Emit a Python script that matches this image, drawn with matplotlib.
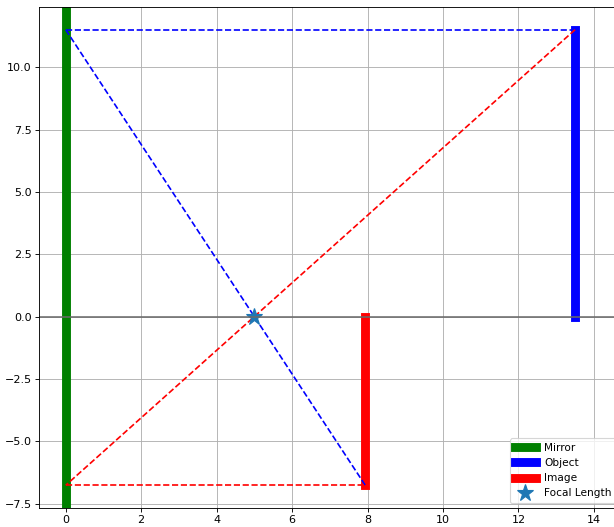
import matplotlib.pyplot as plt

# mirror / lens setup
focal_length = 5.0
object_distance = 13.5
object_height = 11.5
image_distance = 7.94
image_height = -6.76

dpi = 80
x_min, x_max = -0.7, 14.72
px_per_unit = 37.73
fig = plt.figure(figsize=(614 / dpi, 527 / dpi), dpi=dpi)
ax = fig.add_axes([39.3 / 614, 19 / 527, (x_max - x_min) * px_per_unit / 614, 501 / 527])

ax.axvline(0, color='green', linewidth=8, label='Mirror')
ax.plot([object_distance, object_distance], [0, object_height], color='blue', linewidth=8, label='Object')
ax.plot([image_distance, image_distance], [0, image_height], color='red', linewidth=8, label='Image')

# rays
ax.plot([0, object_distance], [object_height, object_height], 'b--')
ax.plot([0, image_distance], [object_height, image_height], 'b--')
ax.plot([object_distance, 0], [object_height, image_height], 'r--')
ax.plot([0, image_distance], [image_height, image_height], 'r--')

ax.plot(focal_length, 0, marker='*', markersize=16, linestyle='none', label='Focal Length')
ax.axhline(0, color='dimgray', linewidth=1.4)

ax.set_xlim(x_min, x_max)
ax.set_ylim(-7.67, 12.41)
ax.grid(True)
ax.tick_params(axis='x', pad=2.5)
ax.legend(loc='lower right', fontsize=9.5)

fig.savefig('out.png', dpi=dpi)
